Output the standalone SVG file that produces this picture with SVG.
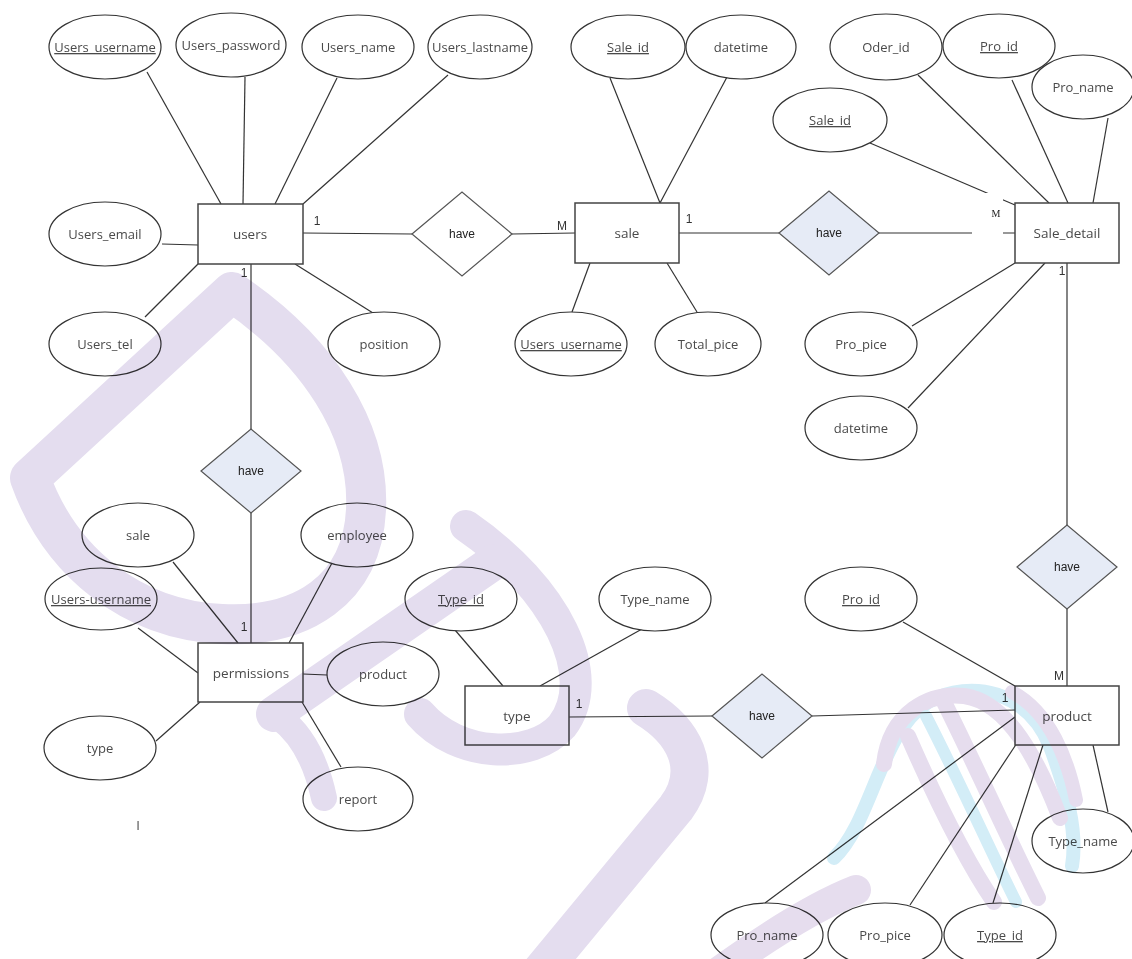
<svg xmlns="http://www.w3.org/2000/svg" width="1132" height="959" viewBox="0 0 1132 959">
<defs>
<style>
.bg{fill:#ffffff}
.ent rect{fill:#ffffff;stroke:#444;stroke-width:1.5}
.rel polygon{stroke:#555;stroke-width:1.2}
.relb polygon{fill:#e6ebf6}
.relw polygon{fill:#ffffff}
.att ellipse{fill:#ffffff;stroke:#333;stroke-width:1.2}
.t{font-family:"Open Sans","Noto Sans",sans-serif;font-size:13px;fill:#4a4a4a;text-anchor:middle}
.te{font-family:"Open Sans","Noto Sans",sans-serif;font-size:13.5px;fill:#4a4a4a;text-anchor:middle}
.k{text-decoration:underline}
.h{font-family:"Liberation Sans",Arial,sans-serif;font-size:12px;fill:#222;text-anchor:middle}
.c{font-family:"Liberation Sans",Arial,sans-serif;font-size:12px;fill:#333;text-anchor:middle}
.cs{font-family:"Liberation Serif","Times New Roman",serif;font-size:10px;fill:#222;text-anchor:middle}
#connectors line{stroke:#333;stroke-width:1.2}
.wms{fill:none;stroke:#e4ddef;stroke-linecap:round;stroke-linejoin:round}
.wmp{fill:none;stroke:#e6ddee;stroke-linecap:round;stroke-linejoin:round}
.wmb{fill:none;stroke:#d3edf7;stroke-linecap:round;stroke-linejoin:round}
</style>
</defs>
<rect class="bg" x="0" y="0" width="1132" height="959"/>

<g id="connectors">
<line x1="147" y1="72" x2="221" y2="204"/>
<line x1="245" y1="77" x2="243" y2="204"/>
<line x1="337" y1="78" x2="275" y2="204"/>
<line x1="448" y1="75" x2="303" y2="204"/>
<line x1="162" y1="244" x2="198" y2="245"/>
<line x1="198" y1="264" x2="145" y2="317"/>
<line x1="295" y1="264" x2="373" y2="313"/>
<line x1="303" y1="233" x2="412" y2="234"/>
<line x1="251" y1="264" x2="251" y2="429"/>
<line x1="512" y1="234" x2="575" y2="233"/>
<line x1="610" y1="78" x2="660" y2="203"/>
<line x1="727" y1="77" x2="660" y2="203"/>
<line x1="590" y1="263" x2="572" y2="312"/>
<line x1="667" y1="263" x2="697" y2="312"/>
<line x1="679" y1="233" x2="779" y2="233"/>
<line x1="879" y1="233" x2="1015" y2="233"/>
<line x1="870" y1="143" x2="1015" y2="205"/>
<line x1="918" y1="75" x2="1049" y2="203"/>
<line x1="1012" y1="80" x2="1068" y2="203"/>
<line x1="1108" y1="118" x2="1093" y2="203"/>
<line x1="1015" y1="263" x2="912" y2="326"/>
<line x1="1045" y1="263" x2="908" y2="408"/>
<line x1="1067" y1="263" x2="1067" y2="525"/>
<line x1="1067" y1="609" x2="1067" y2="686"/>
<line x1="903" y1="622" x2="1015" y2="686"/>
<line x1="812" y1="716" x2="1015" y2="710"/>
<line x1="1015" y1="717" x2="765" y2="903"/>
<line x1="1017" y1="743" x2="910" y2="905"/>
<line x1="1043" y1="745" x2="993" y2="903"/>
<line x1="1093" y1="745" x2="1108" y2="812"/>
<line x1="569" y1="717" x2="712" y2="716"/>
<line x1="455" y1="630" x2="503" y2="686"/>
<line x1="642" y1="629" x2="540" y2="686"/>
<line x1="251" y1="513" x2="251" y2="643"/>
<line x1="173" y1="562" x2="238" y2="643"/>
<line x1="332" y1="563" x2="289" y2="643"/>
<line x1="138" y1="628" x2="198" y2="673"/>
<line x1="303" y1="674" x2="327" y2="675"/>
<line x1="156" y1="741" x2="200" y2="702"/>
<line x1="302" y1="702" x2="341" y2="767"/>
<rect x="972" y="193" width="31" height="46" fill="#ffffff"/>
</g>

<g id="e-users" class="ent"><rect x="198" y="204" width="105" height="60"/><text class="te" x="250" y="239">users</text></g>
<g id="e-sale" class="ent"><rect x="575" y="203" width="104" height="60"/><text class="te" x="627" y="238">sale</text></g>
<g id="e-sale_detail" class="ent"><rect x="1015" y="203" width="104" height="60"/><text class="te" x="1067" y="238">Sale_detail</text></g>
<g id="e-permissions" class="ent"><rect x="198" y="643" width="105" height="59"/><text class="te" x="251" y="678">permissions</text></g>
<g id="e-type" class="ent"><rect x="465" y="686" width="104" height="59"/><text class="te" x="517" y="721">type</text></g>
<g id="e-product" class="ent"><rect x="1015" y="686" width="104" height="59"/><text class="te" x="1067" y="721">product</text></g>

<g id="r-users-sale" class="rel relw"><polygon points="412,234 462,192 512,234 462,276"/><text class="h" x="462" y="238">have</text></g>
<g id="r-sale-detail" class="rel relb"><polygon points="779,233 829,191 879,233 829,275"/><text class="h" x="829" y="237">have</text></g>
<g id="r-users-perm" class="rel relb"><polygon points="201,471 251,429 301,471 251,513"/><text class="h" x="251" y="475">have</text></g>
<g id="r-detail-product" class="rel relb"><polygon points="1017,567 1067,525 1117,567 1067,609"/><text class="h" x="1067" y="571">have</text></g>
<g id="r-type-product" class="rel relb"><polygon points="712,716 762,674 812,716 762,758"/><text class="h" x="762" y="720">have</text></g>

<g id="a-users_username" class="att"><ellipse cx="105" cy="47" rx="56" ry="32"/><text class="t k" x="105" y="52">Users_username</text></g>
<g id="a-users_password" class="att"><ellipse cx="231" cy="45" rx="55" ry="32"/><text class="t" x="231" y="50">Users_password</text></g>
<g id="a-users_name" class="att"><ellipse cx="358" cy="47" rx="56" ry="32"/><text class="t" x="358" y="52">Users_name</text></g>
<g id="a-users_lastname" class="att"><ellipse cx="480" cy="47" rx="52" ry="32"/><text class="t" x="480" y="52">Users_lastname</text></g>
<g id="a-sale_id" class="att"><ellipse cx="628" cy="47" rx="57" ry="32"/><text class="t k" x="628" y="52">Sale_id</text></g>
<g id="a-sale_datetime" class="att"><ellipse cx="741" cy="47" rx="55" ry="32"/><text class="t" x="741" y="52">datetime</text></g>
<g id="a-oder_id" class="att"><ellipse cx="886" cy="47" rx="56" ry="33"/><text class="t" x="886" y="52">Oder_id</text></g>
<g id="a-detail_pro_id" class="att"><ellipse cx="999" cy="46" rx="56" ry="32"/><text class="t k" x="999" y="51">Pro_id</text></g>
<g id="a-detail_pro_name" class="att"><ellipse cx="1083" cy="87" rx="51" ry="32"/><text class="t" x="1083" y="92">Pro_name</text></g>
<g id="a-detail_sale_id" class="att"><ellipse cx="830" cy="120" rx="57" ry="32"/><text class="t k" x="830" y="125">Sale_id</text></g>
<g id="a-users_email" class="att"><ellipse cx="105" cy="234" rx="56" ry="32"/><text class="t" x="105" y="239">Users_email</text></g>
<g id="a-users_tel" class="att"><ellipse cx="105" cy="344" rx="56" ry="32"/><text class="t" x="105" y="349">Users_tel</text></g>
<g id="a-position" class="att"><ellipse cx="384" cy="344" rx="56" ry="32"/><text class="t" x="384" y="349">position</text></g>
<g id="a-sale_users_username" class="att"><ellipse cx="571" cy="344" rx="56" ry="32"/><text class="t k" x="571" y="349">Users_username</text></g>
<g id="a-total_pice" class="att"><ellipse cx="708" cy="344" rx="53" ry="32"/><text class="t" x="708" y="349">Total_pice</text></g>
<g id="a-detail_pro_pice" class="att"><ellipse cx="861" cy="344" rx="56" ry="32"/><text class="t" x="861" y="349">Pro_pice</text></g>
<g id="a-detail_datetime" class="att"><ellipse cx="861" cy="428" rx="56" ry="32"/><text class="t" x="861" y="433">datetime</text></g>
<g id="a-perm_sale" class="att"><ellipse cx="138" cy="535" rx="56" ry="32"/><text class="t" x="138" y="540">sale</text></g>
<g id="a-perm_employee" class="att"><ellipse cx="357" cy="535" rx="56" ry="32"/><text class="t" x="357" y="540">employee</text></g>
<g id="a-perm_users_username" class="att"><ellipse cx="101" cy="599" rx="56" ry="31"/><text class="t k" x="101" y="604">Users-username</text></g>
<g id="a-type_id" class="att"><ellipse cx="461" cy="599" rx="56" ry="32"/><text class="t k" x="461" y="604">Type_id</text></g>
<g id="a-type_name" class="att"><ellipse cx="655" cy="599" rx="56" ry="32"/><text class="t" x="655" y="604">Type_name</text></g>
<g id="a-product_pro_id" class="att"><ellipse cx="861" cy="599" rx="56" ry="32"/><text class="t k" x="861" y="604">Pro_id</text></g>
<g id="a-perm_product" class="att"><ellipse cx="383" cy="674" rx="56" ry="32"/><text class="t" x="383" y="679">product</text></g>
<g id="a-perm_type" class="att"><ellipse cx="100" cy="748" rx="56" ry="32"/><text class="t" x="100" y="753">type</text></g>
<g id="a-perm_report" class="att"><ellipse cx="358" cy="799" rx="55" ry="32"/><text class="t" x="358" y="804">report</text></g>
<g id="a-product_type_name" class="att"><ellipse cx="1083" cy="841" rx="51" ry="32"/><text class="t" x="1083" y="846">Type_name</text></g>
<g id="a-product_pro_name" class="att"><ellipse cx="767" cy="935" rx="56" ry="32"/><text class="t" x="767" y="940">Pro_name</text></g>
<g id="a-product_pro_pice" class="att"><ellipse cx="885" cy="935" rx="57" ry="32"/><text class="t" x="885" y="940">Pro_pice</text></g>
<g id="a-product_type_id" class="att"><ellipse cx="1000" cy="935" rx="56" ry="32"/><text class="t k" x="1000" y="940">Type_id</text></g>

<g id="cardinalities">
<text class="c" x="317" y="225">1</text>
<text class="c" x="244" y="277">1</text>
<text class="c" x="562" y="230">M</text>
<text class="c" x="689" y="223">1</text>
<text class="cs" x="996" y="217">M</text>
<text class="c" x="1062" y="275">1</text>
<text class="c" x="244" y="631">1</text>
<text class="c" x="1059" y="680">M</text>
<text class="c" x="1005" y="702">1</text>
<text class="c" x="579" y="708">1</text>
<text class="t" x="138" y="830">I</text>
</g>

<g id="watermark" style="mix-blend-mode:multiply">
<path class="wms" stroke-width="40" d="M232,292 L30,478 C60,562 132,620 222,624 C302,628 362,590 366,510 C370,430 318,350 232,292 Z"/>
<path class="wms" stroke-width="32" d="M466,526 C556,588 600,676 562,726 C532,760 458,758 420,714"/>
<path class="wms" stroke-width="36" d="M494,562 L274,714"/>
<path class="wms" stroke-width="26" d="M280,718 Q312,742 324,798"/>
<path class="wms" stroke-width="38" d="M646,708 C682,730 706,768 676,808 L538,975"/>
<path class="wmp" stroke-width="30" d="M714,975 C762,940 815,906 856,890"/>
<path class="wmb" stroke-width="14" d="M834,858 C872,822 880,732 928,702 C972,678 1028,692 1050,746 C1066,790 1078,830 1072,866"/>
<path class="wmp" stroke-width="16" d="M884,764 C890,712 930,692 964,696 C1008,702 1038,760 1060,818"/>
<path class="wmp" stroke-width="16" d="M944,702 C976,766 1006,834 1038,898"/>
<path class="wmp" stroke-width="16" d="M908,736 C936,800 964,858 994,902"/>
<path class="wmb" stroke-width="12" d="M926,716 C960,782 990,850 1016,902"/>
<path class="wmp" stroke-width="14" d="M1012,692 C1050,712 1068,760 1076,800"/>
</g>
</svg>
